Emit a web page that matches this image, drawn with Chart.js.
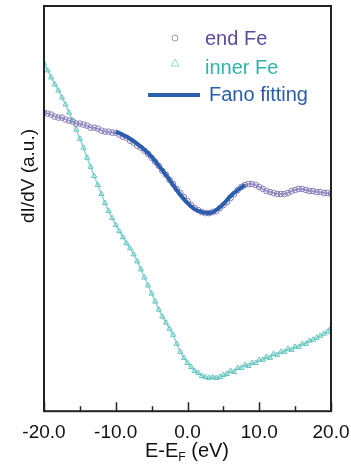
<!DOCTYPE html>
<html>
<head>
<meta charset="utf-8">
<script src="https://cdn.jsdelivr.net/npm/chart.js@4"></script>
<style>
  html, body { margin: 0; padding: 0; background: #fff; }
  #wrap { width: 351px; height: 468px; position: relative; }
</style>
</head>
<body>
<div id="wrap"><canvas id="stsChart"></canvas></div>
<script>
// energy axis, -20 .. 20 eV in 0.5 eV steps
const energy = [];
for (let i = 0; i <= 80; i++) energy.push(-20 + i * 0.5);

// dI/dV (a.u.)
const endFe = [
  297,296,295,293,292,292,290,289,288,286,
  286,285,284,282,282,281,279,278,278,277,
  277,275,273,272,269,267,264,262,259,256,
  252,248,244,239,235,230,226,221,217,213,
  209,205,202,200,198,197,197,198,199,202,
  205,208,212,216,220,223,225,226,226,225,
  223,221,219,218,217,216,216,216,217,219,
  220,221,221,220,219,219,218,218,217,217,
  216
];
const innerFe = [
  346,339,332,325,319,312,305,297,289,280,
  271,262,252,243,234,225,216,207,199,192,
  185,179,173,167,162,156,149,141,133,125,
  117,109,101,94,88,82,76,67,59,53,
  48,44,40,38,35,34,33,34,33,34,
  36,37,40,39,43,43,46,45,48,48,
  51,51,54,53,57,56,59,59,62,61,
  64,64,67,67,70,71,73,75,77,79,
  83
];
// fano fit, -10 .. 8 eV in 1 eV steps
const fanoE = [-10,-9,-8,-7,-6,-5,-4,-3,-2,-1,0,1,2,3,4,5,6,7,8];
const fanoFit = [278,275,271,266,260,253,244,235,225,215,207,201,198,197,200,206,214,220,225];

const xTicks = [-20, -10, 0, 10, 20];
const xMinor = [-15, -5, 5, 15];

const toPts = (xs, ys) => xs.map((x, i) => ({ x: x, y: ys[i] }));

// box, inward ticks, legend and axis titles
const decor = {
  id: 'decor',
  afterDraw(chart) {
    const c = chart.ctx, a = chart.chartArea, xs = chart.scales.x;
    c.save();
    c.strokeStyle = '#222';
    c.lineWidth = 2;
    c.strokeRect(a.left, a.top, a.right - a.left, a.bottom - a.top);
    c.lineWidth = 1.5;
    xTicks.forEach(v => {
      const p = Math.round(xs.getPixelForValue(v)) + 0.5;
      c.beginPath(); c.moveTo(p, a.bottom); c.lineTo(p, a.bottom - 9); c.stroke();
    });
    xMinor.forEach(v => {
      const p = Math.round(xs.getPixelForValue(v)) + 0.5;
      c.beginPath(); c.moveTo(p, a.bottom); c.lineTo(p, a.bottom - 5); c.stroke();
    });

    // legend
    c.font = '20px "Liberation Sans", Arial, sans-serif';
    c.textBaseline = 'alphabetic';
    c.lineWidth = 1;
    c.strokeStyle = '#9b97bb';
    c.beginPath(); c.arc(175, 38, 3, 0, Math.PI * 2); c.stroke();
    c.fillStyle = '#5b4b9a';
    c.fillText('end Fe', 205, 45);
    c.strokeStyle = '#8fd3d0';
    c.beginPath(); c.moveTo(175, 59); c.lineTo(179, 66); c.lineTo(171, 66); c.closePath(); c.stroke();
    c.fillStyle = '#2fb3a8';
    c.fillText('inner Fe', 205, 74);
    c.strokeStyle = '#2b5fad';
    c.lineWidth = 4;
    c.beginPath(); c.moveTo(148, 95); c.lineTo(200, 95); c.stroke();
    c.fillStyle = '#2b5ca8';
    c.fillText('Fano fitting', 209, 101);

    // x title with subscript
    c.fillStyle = '#111';
    let tx = 145;
    c.fillText('E-E', tx, 457);
    tx += c.measureText('E-E').width;
    c.font = '12px "Liberation Sans", Arial, sans-serif';
    c.fillText('F', tx, 461);
    tx += c.measureText('F').width;
    c.font = '20px "Liberation Sans", Arial, sans-serif';
    c.fillText(' (eV)', tx, 457);

    // y title
    c.translate(29, 176);
    c.rotate(-Math.PI / 2);
    c.font = '19px "Liberation Sans", Arial, sans-serif';
    c.textAlign = 'center';
    c.textBaseline = 'middle';
    c.fillText('dI/dV (a.u.)', 0, 0);
    c.restore();
  }
};

new Chart(document.getElementById('stsChart'), {
  type: 'scatter',
  data: {
    datasets: [
      {
        label: 'Fano fitting',
        data: toPts(fanoE, fanoFit),
        showLine: true,
        borderColor: '#2b5fad',
        borderWidth: 4,
        pointRadius: 0,
        cubicInterpolationMode: 'monotone',
        order: 0
      },
      {
        label: 'end Fe',
        data: toPts(energy, endFe),
        showLine: true,
        borderColor: '#9c95c8',
        borderWidth: 1.5,
        pointStyle: 'circle',
        pointRadius: 2.8,
        pointBorderWidth: 1,
        pointBorderColor: '#857cbb',
        pointBackgroundColor: 'rgba(255,255,255,0)',
        order: 1
      },
      {
        label: 'inner Fe',
        data: toPts(energy, innerFe),
        showLine: true,
        borderColor: '#8ed6d3',
        borderWidth: 1.5,
        pointStyle: 'triangle',
        pointRadius: 3,
        pointBorderWidth: 1,
        pointBorderColor: '#62c5c2',
        pointBackgroundColor: 'rgba(255,255,255,0)',
        order: 2
      }
    ]
  },
  options: {
    responsive: true,
    maintainAspectRatio: false,
    animation: false,
    layout: { padding: { left: 44, right: 20, top: 6, bottom: 14 } },
    plugins: {
      legend: { display: false },
      tooltip: { enabled: false }
    },
    scales: {
      x: {
        type: 'linear',
        min: -20,
        max: 20,
        afterBuildTicks: axis => { axis.ticks = xTicks.map(v => ({ value: v })); },
        afterFit: axis => { axis.paddingLeft = 0; axis.paddingRight = 0; },
        ticks: {
          padding: 10,
          color: '#111',
          font: { family: '"Liberation Sans", Arial, sans-serif', size: 19 },
          maxRotation: 0,
          callback: v => v.toFixed(1)
        },
        grid: { display: false, drawTicks: false },
        border: { display: false }
      },
      y: {
        display: false,
        min: 0,
        max: 403
      }
    }
  },
  plugins: [decor]
});
</script>
</body>
</html>
